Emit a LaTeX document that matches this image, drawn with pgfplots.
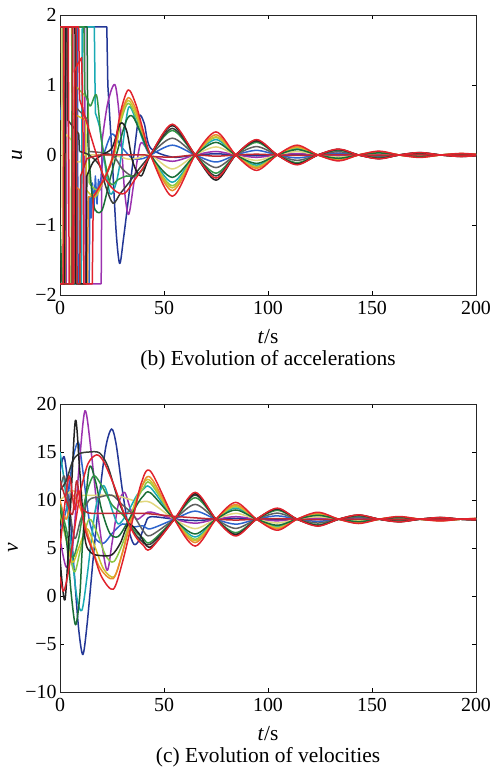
\documentclass[border=0pt]{standalone}
\usepackage{fontspec}
\setmainfont{Liberation Serif}
\usepackage{pgfplots}
\pgfplotsset{compat=1.18}

\definecolor{cnavy}{RGB}{35,55,150}
\definecolor{cblue}{RGB}{45,100,205}
\definecolor{cred}{RGB}{225,35,45}
\definecolor{cdred}{RGB}{190,40,50}
\definecolor{corange}{RGB}{235,140,45}
\definecolor{cyellow}{RGB}{205,195,45}
\definecolor{clgreen}{RGB}{140,200,70}
\definecolor{cteal}{RGB}{25,170,180}
\definecolor{cdgreen}{RGB}{25,110,55}
\definecolor{cgreen}{RGB}{50,150,70}
\definecolor{ckhaki}{RGB}{225,215,125}
\definecolor{cpurple}{RGB}{155,50,175}
\definecolor{cblack}{RGB}{35,35,35}
\definecolor{cgray}{RGB}{95,95,95}
\definecolor{cblack2}{RGB}{55,60,55}

\pgfplotsset{
  panel/.style={
    scale only axis, width=416bp,
    xmin=0, xmax=200,
    xtick={0,50,100,150,200}, xticklabels={0,50,100,150,200},
    tick align=inside, major tick length=4bp,
    axis line style={line width=0.7bp, black!85},
    tick style={line width=0.7bp, black},
    ticklabel style={font=\fontsize{20}{22}\selectfont},
    xticklabel style={yshift=-3bp},
    label style={font=\fontsize{21.5}{24}\selectfont},
    every axis plot/.append style={line width=1.5bp, mark=none, line join=round},
  },
}

\begin{document}
\begin{tikzpicture}[x=1bp,y=1bp]
\useasboundingbox (0,0) rectangle (499,771);

% ---------------- (b) accelerations ----------------
\begin{axis}[panel, name=top, at={(60bp,476bp)}, anchor=south west,
  height=280bp, ymin=-2, ymax=2,
  ytick={-2,-1,0,1,2}, yticklabels={−2,−1,0,1,2},
  xlabel={\textit{t}/s}, ylabel={\textit{u}},
  xlabel style={at={(axis description cs:0.5,-0.15)}, anchor=center},
  ylabel style={at={(axis description cs:-0.1034,0.5)}, anchor=center},
]
% navy
\addplot[cnavy, sharp plot] coordinates {(0,1.83) (22.5,1.83) (23,1.0)};
\addplot[cnavy, smooth] coordinates {(23,1.0) (25,0) (27,-1.1) (28.7,-1.55) (30.5,-1.2) (33,-0.6) (35.5,0) (38,0.55) (40.5,0.45) (43.5,0.1) (54,-0.03) (65,0) (75,0.017) (84.5,0) (94.5,-0.011) (104.5,0) (114,0.007) (124,0) (134,-0.004) (143.5,0) (153.5,0.003) (163,0) (173,-0.002) (183,0) (192.5,0.001) (200,0)};
% blue
\addplot[cblue, sharp plot] coordinates {(0,0.5) (1,0.8) (1.4,1.83) (8.3,1.83) (8.7,-1.84) (14,-1.84) (14.4,-0.6) (15,-0.9) (15.6,-0.4) (16.3,-0.8) (17,-0.3) (17.8,-0.7) (18.5,-0.35) (19.3,-0.5) (20,-0.2) (21,0)};
\addplot[cblue, smooth] coordinates {(21,0) (25,0.3) (30,0.1) (35,-0.05) (40,-0.05) (43.5,0) (54,0.14) (65,0) (75,-0.10) (84.5,0) (94.5,0.066) (104.5,0) (114,-0.042) (124,0) (134,0.026) (143.5,0) (153.5,-0.017) (163,0) (173,0.011) (183,0) (192.5,-0.007) (200,-0.003)};
% purple
\addplot[cpurple, sharp plot] coordinates {(0,-1.84) (3,-1.84) (3.4,1.83) (11.8,1.83) (12.2,-1.84) (19.8,-1.84) (20.2,0.2)};
\addplot[cpurple, smooth] coordinates {(20.2,0.2) (23,0.75) (26.5,1.0) (29,0.4) (31,-0.5) (33,-0.85) (35.5,-0.4) (38.5,0.15) (41,0.12) (43.5,0) (54,-0.09) (65,0) (75,0.05) (84.5,0) (94.5,-0.033) (104.5,0) (114,0.021) (124,0) (134,-0.013) (143.5,0) (153.5,0.008) (163,0) (173,-0.005) (183,0) (192.5,0.003) (200,0)};
% khaki
\addplot[ckhaki, sharp plot] coordinates {(0,1.83) (0.8,1.83) (1.2,-1.84) (2.2,-1.84) (2.6,0.3) (6,0.2) (6.4,-0.1) (10,-0.1) (10.3,0)};
\addplot[ckhaki, smooth] coordinates {(10.3,0) (20,0) (28,-0.02) (33,-0.06) (38,-0.04) (43.5,0) (54,-0.2) (65,0) (75,0.115) (84.5,0) (94.5,-0.077) (104.5,0) (114,0.049) (124,0) (134,-0.03) (143.5,0) (153.5,0.019) (163,0) (173,-0.012) (183,0) (192.5,0.008) (200,0.004)};
% teal
\addplot[cteal, sharp plot] coordinates {(0,-1.84) (10.3,-1.84) (10.7,1.83) (16.5,1.83) (17,0.6)};
\addplot[cteal, smooth] coordinates {(17,0.6) (19,0.4) (21,0) (24,-0.55) (27,-0.4) (29.5,0) (33,0.68) (37,0.45) (40,0.2) (43.5,0) (54,-0.39) (65,0) (75,0.22) (84.5,0) (94.5,-0.145) (104.5,0) (114,0.092) (124,0) (134,-0.056) (143.5,0) (153.5,0.036) (163,0) (173,-0.023) (183,0) (192.5,0.015) (200,0.007)};
% light green
\addplot[clgreen, sharp plot] coordinates {(0,-1.84) (6.6,-1.84) (7,1.0) (13.5,0.8) (14,-0.4)};
\addplot[clgreen, smooth] coordinates {(14,-0.4) (18,-0.5) (22,-0.3) (26,0) (29.5,0.5) (32.8,0.74) (36.5,0.55) (40,0.27) (43.5,0) (54,-0.44) (65,0) (75,0.25) (84.5,0) (94.5,-0.165) (104.5,0) (114,0.105) (124,0) (134,-0.064) (143.5,0) (153.5,0.041) (163,0) (173,-0.026) (183,0) (192.5,0.017) (200,0.008)};
% yellow
\addplot[cyellow, sharp plot] coordinates {(0,1.83) (1.5,1.83) (1.9,-1.84) (5.3,-1.84) (5.7,0.6) (12.3,0.5) (12.7,-0.5)};
\addplot[cyellow, smooth] coordinates {(12.7,-0.5) (17,-0.6) (21,-0.35) (26,0) (29.5,0.55) (32.8,0.78) (36.5,0.6) (40,0.28) (43.5,0) (54,-0.47) (65,0) (75,0.26) (84.5,0) (94.5,-0.18) (104.5,0) (114,0.11) (124,0) (134,-0.068) (143.5,0) (153.5,0.044) (163,0) (173,-0.028) (183,0) (192.5,0.018) (200,0.008)};
% orange
\addplot[corange, sharp plot] coordinates {(0,-1.84) (2.5,-1.84) (2.8,1.83) (5.6,1.83) (6,-0.4) (9.3,-0.5) (9.7,-1.84) (13.2,-1.84) (13.6,-0.6)};
\addplot[corange, smooth] coordinates {(13.6,-0.6) (17,-0.55) (21,-0.35) (25.5,0) (29,0.55) (32.8,0.82) (36.5,0.65) (40,0.3) (43.5,0) (54,-0.51) (65,0) (75,0.29) (84.5,0) (94.5,-0.19) (104.5,0) (114,0.12) (124,0) (134,-0.074) (143.5,0) (153.5,0.048) (163,0) (173,-0.03) (183,0) (192.5,0.019) (200,0.009)};
% dark green
\addplot[cdgreen, sharp plot] coordinates {(0,-1.0) (1,-1.84) (7.3,-1.84) (7.7,1.83) (13,1.83) (13.4,0.2)};
\addplot[cdgreen, smooth] coordinates {(13.4,0.2) (16,-0.7) (20,-0.8) (24,-0.35) (28,0.1) (32,0.5) (35,0.55) (39,0.3) (43.5,0) (54,-0.32) (65,0) (75,0.18) (84.5,0) (94.5,-0.12) (104.5,0) (114,0.077) (124,0) (134,-0.047) (143.5,0) (153.5,0.03) (163,0) (173,-0.019) (183,0) (192.5,0.012) (200,0.006)};
% gray
\addplot[cgray, sharp plot] coordinates {(0,1.83) (1.7,1.83) (2.1,-1.84) (6.6,-1.84) (7,0.7) (13.5,0.5) (14,0.05)};
\addplot[cgray, smooth] coordinates {(14,0.05) (25,0) (30,-0.2) (35,-0.3) (40,-0.2) (43.5,0) (54,0.24) (65,0) (75,-0.18) (84.5,0) (94.5,0.12) (104.5,0) (114,-0.077) (124,0) (134,0.047) (143.5,0) (153.5,-0.03) (163,0) (173,0.019) (183,0) (192.5,-0.012) (200,-0.005)};
% green
\addplot[cgreen, sharp plot] coordinates {(0,-1.84) (5.5,-1.84) (5.9,1.83) (11.5,1.83) (11.9,0.9)};
\addplot[cgreen, smooth] coordinates {(11.9,0.9) (14.5,0.7) (17.6,0.85) (20,0.2) (24,-0.4) (28,-0.35) (32,-0.3) (36,-0.3) (40,-0.2) (43.5,0) (54,0.35) (65,0) (75,-0.26) (84.5,0) (94.5,0.18) (104.5,0) (114,-0.11) (124,0) (134,0.068) (143.5,0) (153.5,-0.044) (163,0) (173,0.028) (183,0) (192.5,-0.018) (200,-0.008)};
% dark grey
\addplot[cblack2, sharp plot] coordinates {(0,1.83) (3.3,1.83) (3.7,0.5) (9,0.3) (9.4,0.05)};
\addplot[cblack2, smooth] coordinates {(9.4,0.05) (14,0) (19,-0.15) (22,-0.45) (25.5,-0.69) (29,-0.55) (33,-0.4) (38,-0.2) (43.5,0) (54,0.38) (65,0) (75,-0.3) (84.5,0) (94.5,0.2) (104.5,0) (114,-0.126) (124,0) (134,0.077) (143.5,0) (153.5,-0.05) (163,0) (173,0.032) (183,0) (192.5,-0.02) (200,-0.009)};
% black
\addplot[cblack, sharp plot] coordinates {(0,-1.84) (2.2,-1.84) (2.6,1.83) (7.2,1.83) (7.6,-1.84) (12.5,-1.84) (12.9,-0.3)};
\addplot[cblack, smooth] coordinates {(12.9,-0.3) (16,-0.1) (20,0) (25,0.1) (29,0.45) (32,0.35) (35,-0.1) (39,-0.3) (43.5,0) (54,0.42) (65,0) (75,-0.36) (84.5,0) (94.5,0.21) (104.5,0) (114,-0.133) (124,0) (134,0.081) (143.5,0) (153.5,-0.052) (163,0) (173,0.033) (183,0) (192.5,-0.021) (200,-0.009)};
% dark red
\addplot[cdred, sharp plot] coordinates {(0,-1.84) (5.8,-1.84) (6.2,1.83) (7.8,1.83) (8.2,-1.84) (9.5,-1.84) (9.9,-0.3) (13,-0.05) (19,0)};
\addplot[cdred, smooth] coordinates {(19,0) (30,0) (41,0) (43.5,-0.02) (54,-0.03) (65,0) (75,-0.017) (84.5,0) (94.5,0.011) (104.5,0) (114,-0.007) (124,0) (134,0.004) (143.5,0) (153.5,-0.003) (163,0) (173,0.002) (183,0) (192.5,-0.001) (200,0)};
% red B
\addplot[cred, sharp plot] coordinates {(0,-1.84) (1.5,-1.84) (1.9,1.83) (9,1.83) (9.4,0.8)};
\addplot[cred, smooth] coordinates {(9.4,0.8) (13.5,0.4) (17.6,0) (21,-0.3) (26,-0.5) (31,-0.55) (36,-0.35) (40,-0.18) (43.5,0) (54,0.44) (65,0) (75,-0.33) (84.5,0) (94.5,0.22) (104.5,0) (114,-0.14) (124,0) (134,0.085) (143.5,0) (153.5,-0.055) (163,0) (173,0.035) (183,0) (192.5,-0.022) (200,-0.01)};
% red A
\addplot[cred, sharp plot] coordinates {(0,1.83) (4,1.83) (4.4,-1.84) (6.6,-1.84) (7,1.2) (8.5,1.3) (10.4,1.39) (11,0.6) (11.5,-1.84) (15.5,-1.84) (16,-0.6)};
\addplot[cred, smooth] coordinates {(16,-0.6) (19,-0.45) (22,-0.3) (25.6,0) (29,0.6) (32.8,0.93) (36.5,0.72) (40,0.35) (43.5,0) (54,-0.59) (65,0) (75,0.33) (84.5,0) (94.5,-0.22) (104.5,0) (114,0.14) (124,0) (134,-0.085) (143.5,0) (153.5,0.055) (163,0) (173,-0.035) (183,0) (192.5,0.022) (200,0.01)};
\end{axis}
\node[font=\fontsize{21.5}{24}\selectfont] at ([yshift=-65bp]top.south) {(b) Evolution of accelerations};

% ---------------- (c) velocities ----------------
\begin{axis}[panel, name=bot, at={(60bp,79bp)}, anchor=south west,
  height=288bp, ymin=-10, ymax=20,
  ytick={-10,-5,0,5,10,15,20}, yticklabels={−10,−5,0,5,10,15,20},
  xlabel={\textit{t}/s}, ylabel={\textit{v}},
  xlabel style={at={(axis description cs:0.5,-0.1458)}, anchor=center},
  ylabel style={at={(axis description cs:-0.113,0.5)}, anchor=center},
]
\addplot[cnavy, smooth] coordinates {(0,13) (2,14.5) (4,11) (7,2) (9,-3.5) (11,-6.1) (13,-3) (16,4) (19,10.5) (22,15.5) (24.8,17.4) (27,15.8) (30,11) (33,7) (35.5,5.4) (38,5.8) (41,7.5) (43.5,8.25) (55,8) (65,7.86) (75,8) (84.5,8.09) (94.5,8) (104.5,7.94) (114,8) (124,8.04) (134,8) (143.5,7.98) (153.5,8) (163,8.01) (173,8) (183,7.99) (192.5,8) (200,8)};
\addplot[cblue, smooth] coordinates {(0,7) (3,9) (6,14) (8.8,16) (11,13) (14,8) (17,6) (21,5.5) (25,6.5) (30,7.5) (35,7.2) (40,7.3) (43.5,7) (55,8) (65,8.84) (75,8) (84.5,7.48) (94.5,8) (104.5,8.35) (114,8) (124,7.78) (134,8) (143.5,8.14) (153.5,8) (163,7.92) (173,8) (183,8.05) (192.5,8) (200,7.98)};
\addplot[cpurple, smooth] coordinates {(0,6) (3,3) (6,5) (9,13) (12,19.3) (15,15) (18.5,8) (22.5,2.7) (25,5.5) (28,9.5) (31,10.8) (34,9) (37,8) (40,8.4) (43.5,8.75) (55,8) (65,7.58) (75,8) (84.5,8.26) (94.5,8) (104.5,7.83) (114,8) (124,8.11) (134,8) (143.5,7.93) (153.5,8) (163,8.04) (173,8) (183,7.97) (192.5,8) (200,8.01)};
\addplot[ckhaki, smooth] coordinates {(0,10) (3,10.5) (6,11) (10,10.5) (20,10.5) (28,10.4) (33,10.1) (38,9.8) (43.5,9.75) (55,8) (65,7.02) (75,8) (84.5,8.61) (94.5,8) (104.5,7.6) (114,8) (124,8.25) (134,8) (143.5,7.84) (153.5,8) (163,8.1) (173,8) (183,7.94) (192.5,8) (200,8.03)};
\addplot[cteal, smooth] coordinates {(0,15) (2,12) (5,6) (8,0) (10.5,-1.5) (13,2) (17,9) (21,11.5) (25,9) (28,7.5) (32,8.5) (37,10.5) (40,11.1) (43.5,11.3) (55,8) (65,6.15) (75,8) (84.5,9.16) (94.5,8) (104.5,7.24) (114,8) (124,8.48) (134,8) (143.5,7.7) (153.5,8) (163,8.18) (173,8) (183,7.88) (192.5,8) (200,8.05)};
\addplot[clgreen, smooth] coordinates {(0,8.5) (4,5) (7,2.5) (10,5) (14,8) (18,6.5) (22,4.2) (26,3.6) (31,6) (36,9.5) (40,11.2) (43.5,11.75) (55,8) (65,5.9) (75,8) (84.5,9.31) (94.5,8) (104.5,7.14) (114,8) (124,8.54) (134,8) (143.5,7.66) (153.5,8) (163,8.21) (173,8) (183,7.87) (192.5,8) (200,8.06)};
\addplot[cyellow, smooth] coordinates {(0,9) (3,6) (6,3.5) (9,5) (13,7) (17,5) (21,2.8) (26,2) (30,4.5) (35,9) (39,11.3) (43.5,12) (55,8) (65,5.76) (75,8) (84.5,9.4) (94.5,8) (104.5,7.08) (114,8) (124,8.58) (134,8) (143.5,7.64) (153.5,8) (163,8.22) (173,8) (183,7.86) (192.5,8) (200,8.06)};
\addplot[corange, smooth] coordinates {(0,10) (3,8) (6,10.5) (10,9) (14,6) (19,3) (25.5,1.8) (30,4.5) (35,8.5) (39,11.2) (43.5,12.35) (55,8) (65,5.56) (75,8) (84.5,9.52) (94.5,8) (104.5,7.0) (114,8) (124,8.63) (134,8) (143.5,7.61) (153.5,8) (163,8.24) (173,8) (183,7.84) (192.5,8) (200,8.07)};
\addplot[cdgreen, smooth] coordinates {(0,9) (3,6) (5.5,0) (7.5,-3) (9.5,0) (11,6) (14,13.3) (17,12) (20,9) (24,6.5) (28,6.2) (32,7.5) (37,9.5) (40,10.4) (43.5,10.75) (55,8) (65,6.46) (75,8) (84.5,8.96) (94.5,8) (104.5,7.37) (114,8) (124,8.4) (134,8) (143.5,7.75) (153.5,8) (163,8.15) (173,8) (183,7.9) (192.5,8) (200,8.04)};
\addplot[cgray, smooth] coordinates {(0,11) (2,12.5) (4,10) (7,6) (10,8) (14,10) (19,10.3) (25,10.5) (30,9.5) (35,8.5) (40,6.8) (43.5,6.3) (55,8) (65,9.54) (75,8) (84.5,7.04) (94.5,8) (104.5,8.63) (114,8) (124,7.6) (134,8) (143.5,8.25) (153.5,8) (163,7.85) (173,8) (183,8.1) (192.5,8) (200,7.96)};
\addplot[cgreen, smooth] coordinates {(0,9.5) (3,7) (6,4) (9,6) (12,10) (16,12.5) (20,11.5) (25,9.5) (30,8.5) (35,7) (40,6) (43.5,5.6) (55,8) (65,10.24) (75,8) (84.5,6.6) (94.5,8) (104.5,8.92) (114,8) (124,7.42) (134,8) (143.5,8.36) (153.5,8) (163,7.78) (173,8) (183,8.14) (192.5,8) (200,7.94)};
\addplot[cblack2, smooth] coordinates {(0,11) (3,12) (6,14) (9,14.8) (14,15) (19,14.9) (23,13.5) (28,10) (33,7.5) (38,6) (43.5,5.4) (55,8) (65,10.52) (75,8) (84.5,6.43) (94.5,8) (104.5,9.04) (114,8) (124,7.35) (134,8) (143.5,8.41) (153.5,8) (163,7.75) (173,8) (183,8.16) (192.5,8) (200,7.93)};
\addplot[cblack, smooth] coordinates {(0,4) (2.4,-0.4) (5,9) (7.4,18.3) (9.5,13) (12,6) (15,4.5) (20,4.2) (25,4.3) (29,5.5) (33,7.5) (38,6.5) (43.5,5.1) (55,8) (65,10.66) (75,8) (84.5,6.34) (94.5,8) (104.5,9.09) (114,8) (124,7.32) (134,8) (143.5,8.43) (153.5,8) (163,7.74) (173,8) (183,8.17) (192.5,8) (200,7.92)};
\addplot[cdred, smooth] coordinates {(0,12) (3,10) (6,8.5) (8,12) (10,9.5) (13,8.7) (19,8.6) (30,8.6) (41,8.6) (43.5,8.55) (55,8.3) (65,8.14) (75,8) (84.5,7.91) (94.5,8) (104.5,8.06) (114,8) (124,7.96) (134,8) (143.5,8.02) (153.5,8) (163,7.99) (173,8) (183,8.01) (192.5,8) (200,8)};
\addplot[cred, smooth] coordinates {(0,2) (1.7,0.5) (4,2.5) (7,7) (10,11) (13.5,13.8) (17.6,14.7) (21,14) (26,11.5) (31,8.5) (36,6.3) (40,5.3) (43.5,4.9) (55,8) (65,10.8) (75,8) (84.5,6.25) (94.5,8) (104.5,9.15) (114,8) (124,7.28) (134,8) (143.5,8.45) (153.5,8) (163,7.72) (173,8) (183,8.18) (192.5,8) (200,7.92)};
\addplot[cred, smooth] coordinates {(0,5) (2,9) (4.5,12.5) (7,9) (9,11) (12,7) (16,4.5) (20,2) (25.6,0.7) (30,3.5) (35,8) (39,11.7) (43.5,13) (55,8) (65,5.2) (75,8) (84.5,9.75) (94.5,8) (104.5,6.85) (114,8) (124,8.72) (134,8) (143.5,7.55) (153.5,8) (163,8.28) (173,8) (183,7.82) (192.5,8) (200,8.08)};
\end{axis}
\node[font=\fontsize{21.5}{24}\selectfont] at ([yshift=-65bp]bot.south) {(c) Evolution of velocities};
\end{tikzpicture}
\end{document}
